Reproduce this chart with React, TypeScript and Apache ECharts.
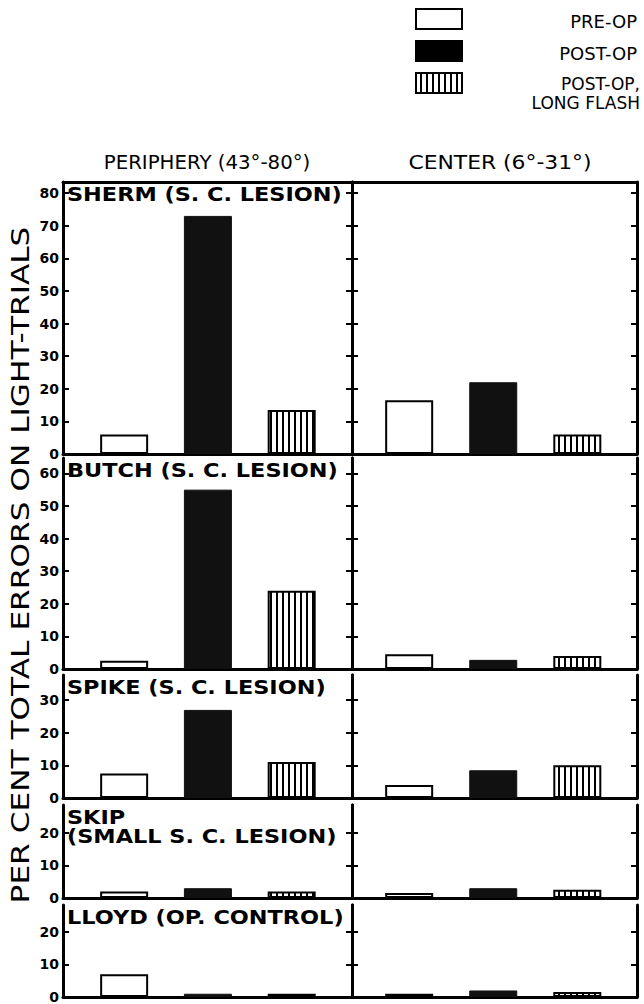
import React, { useEffect, useRef } from "react";
import * as echarts from "echarts";

// ---- data ----
const subjects = [
  "SHERM (S. C. LESION)",
  "BUTCH (S. C. LESION)",
  "SPIKE (S. C. LESION)",
  "SKIP\n(SMALL S. C. LESION)",
  "LLOYD (OP. CONTROL)",
];
const regions = ["PERIPHERY (43°-80°)", "CENTER (6°-31°)"];
const conditions = ["PRE-OP", "POST-OP", "POST-OP,\nLONG FLASH"];

const peripheryPreOp = [6, 2.5, 7.5, 2, 7];
const peripheryPostOp = [73, 55, 27, 3, 1];
const peripheryLongFlash = [13.5, 24, 11, 2, 1];
const centerPreOp = [16.5, 4.5, 4, 1.5, 1];
const centerPostOp = [22, 2.8, 8.5, 3, 2];
const centerLongFlash = [6, 4, 10, 2.5, 1.5];

const yTicks0 = [0, 10, 20, 30, 40, 50, 60, 70, 80];
const yTicks1 = [0, 10, 20, 30, 40, 50, 60];
const yTicks2 = [0, 10, 20, 30];
const yTicks3 = [0, 10, 20];
const yTicks4 = [0, 10, 20];
const yMaxes = [83.4, 64.7, 37.7, 28.5, 28.2];
const yAxisTitle = "PER CENT TOTAL ERRORS ON LIGHT-TRIALS";

// ---- layout ----
const ROWS = [
  [182, 454],
  [458, 669],
  [675, 798],
  [805, 898],
  [905, 997],
];
const COLS = [
  [63, 352],
  [352, 637],
];
const XRANGE = [
  [-0.73, 2.72],
  [-0.68, 2.71],
];
const TITLE_X = [207, 500];
const FONT = '"DejaVu Sans", "Liberation Sans", sans-serif';

function makePattern() {
  const c = document.createElement("canvas");
  c.width = 6;
  c.height = 6;
  const ctx = c.getContext("2d")!;
  ctx.fillStyle = "#fff";
  ctx.fillRect(0, 0, 6, 6);
  ctx.fillStyle = "#000";
  ctx.fillRect(0, 0, 2, 6);
  return { image: c, repeat: "repeat", imageWidth: 6, imageHeight: 6 } as any;
}

export default function App() {
  const ref = useRef<HTMLDivElement>(null);
  useEffect(() => {
    if (!ref.current) return;
    const chart = echarts.init(ref.current, null, { renderer: "svg" });
    const pattern = makePattern();
    const tickSets = [yTicks0, yTicks1, yTicks2, yTicks3, yTicks4];
    const dataSets = [
      [peripheryPreOp, peripheryPostOp, peripheryLongFlash],
      [centerPreOp, centerPostOp, centerLongFlash],
    ];

    const grid: any[] = [];
    const xAxis: any[] = [];
    const yAxis: any[] = [];
    const series: any[] = [];
    const lineStyle = { color: "#000", width: 3 };

    for (let r = 0; r < 5; r++) {
      for (let c = 0; c < 2; c++) {
        const g = r * 2 + c;
        grid.push({
          left: COLS[c][0],
          width: COLS[c][1] - COLS[c][0],
          top: ROWS[r][0],
          height: ROWS[r][1] - ROWS[r][0],
        });
        xAxis.push({
          type: "value",
          gridIndex: g,
          min: XRANGE[c][0],
          max: XRANGE[c][1],
          position: "bottom",
          axisLine: { show: true, onZero: false, lineStyle },
          axisTick: { show: false },
          axisLabel: { show: false },
          splitLine: { show: false },
        });
        const ticks = tickSets[r];
        for (const pos of ["left", "right"]) {
          yAxis.push({
            type: "value",
            gridIndex: g,
            position: pos,
            min: 0,
            max: yMaxes[r],
            interval: 10,
            axisLine: { show: true, onZero: false, lineStyle },
            axisTick: {
              show: true,
              inside: true,
              length: 6,
              customValues: ticks,
              lineStyle: { color: "#000", width: 2 },
            },
            axisLabel: {
              show: c === 0 && pos === "left",
              customValues: ticks,
              margin: 4,
              color: "#000",
              fontFamily: FONT,
              fontWeight: "bold",
              fontSize: 14,
            },
            splitLine: { show: false },
          });
        }
        const yi = g * 2;
        const styles = [
          { color: "#fff", borderColor: "#000", borderWidth: 2 },
          { color: "#111", borderColor: "#111", borderWidth: 1 },
          { color: pattern, borderColor: "#000", borderWidth: 2 },
        ];
        for (let k = 0; k < 3; k++) {
          series.push({
            type: "bar",
            name: conditions[k],
            xAxisIndex: g,
            yAxisIndex: yi,
            barWidth: 48,
            barGap: "-100%",
            data: [[k, dataSets[c][k][r]]],
            itemStyle: styles[k],
            silent: true,
          });
        }
      }
    }
    // top border on the first row
    for (let c = 0; c < 2; c++) {
      xAxis.push({
        type: "value",
        gridIndex: c,
        min: XRANGE[c][0],
        max: XRANGE[c][1],
        position: "top",
        axisLine: { show: true, onZero: false, lineStyle },
        axisTick: { show: false },
        axisLabel: { show: false },
        splitLine: { show: false },
      });
    }

    const graphic: any[] = [];
    // column titles
    regions.forEach((t, c) => {
      graphic.push({
        type: "text",
        x: TITLE_X[c],
        y: 163,
        scaleX: c === 1 ? 1.15 : 1.04,
        style: {
          text: t,
          fill: "#000",
          font: `19px ${FONT}`,
          textAlign: "center",
          textVerticalAlign: "middle",
        },
      });
    });
    // panel labels
    subjects.forEach((t, r) => {
      graphic.push({
        type: "text",
        x: 67,
        y: ROWS[r][0] + 2,
        scaleX: 1.12,
        style: {
          text: t,
          fill: "#000",
          font: `bold 20px ${FONT}`,
          lineHeight: 19,
          textAlign: "left",
          textVerticalAlign: "top",
        },
      });
    });
    // y title
    graphic.push({
      type: "text",
      x: 21,
      y: 565,
      rotation: Math.PI / 2,
      scaleX: 1.3,
      style: {
        text: yAxisTitle,
        fill: "#000",
        font: `24px ${FONT}`,
        textAlign: "center",
        textVerticalAlign: "middle",
      },
    });
    // legend
    const boxes = [
      { y: 9, fill: "#fff" },
      { y: 41, fill: "#000" },
      { y: 73, fill: pattern },
    ];
    boxes.forEach((b) => {
      graphic.push({
        type: "rect",
        shape: { x: 416, y: b.y, width: 46, height: 20 },
        style: { fill: b.fill, stroke: "#000", lineWidth: 2 },
      });
    });
    const legendText = [
      { t: conditions[0], y: 21 },
      { t: conditions[1], y: 53 },
    ];
    legendText.forEach((l) => {
      graphic.push({
        type: "text",
        x: 637,
        y: l.y,
        style: {
          text: l.t,
          fill: "#000",
          font: `18px ${FONT}`,
          textAlign: "right",
          textVerticalAlign: "middle",
        },
      });
    });
    graphic.push({
      type: "text",
      x: 640,
      y: 74,
      style: {
        text: conditions[2],
        fill: "#000",
        font: `17px ${FONT}`,
        lineHeight: 19,
        textAlign: "right",
        textVerticalAlign: "top",
      },
    });

    chart.setOption({
      animation: false,
      backgroundColor: "#fff",
      grid,
      xAxis,
      yAxis,
      series,
      graphic,
    });
    return () => chart.dispose();
  }, []);
  return (
    <div
      ref={ref}
      style={{ position: "absolute", left: 0, top: 0, width: 644, height: 1004 }}
    />
  );
}
